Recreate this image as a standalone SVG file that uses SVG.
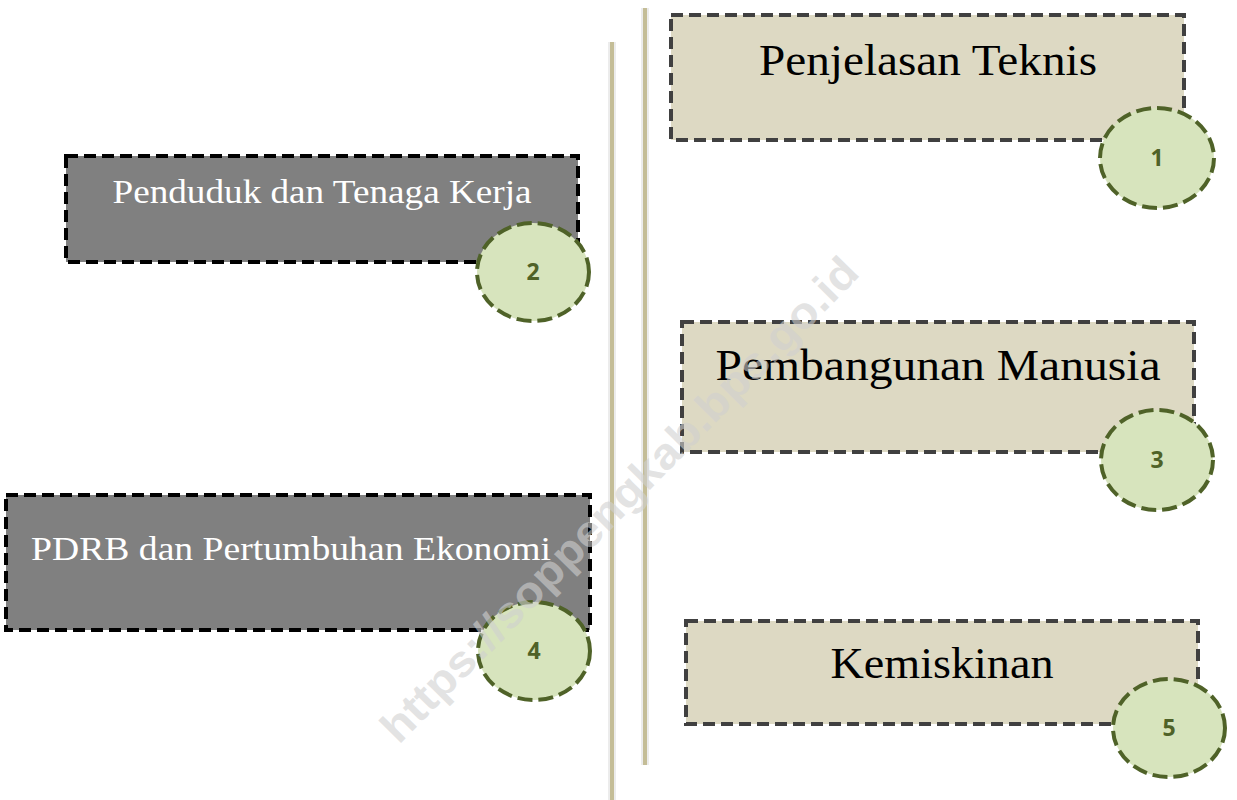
<svg xmlns="http://www.w3.org/2000/svg" width="1237" height="800" viewBox="0 0 1237 800">
<style>
.bg{fill:#ffffff}
.boxL{fill:#808080;stroke:#000000;stroke-width:4;stroke-dasharray:12 6}
.boxR{fill:#ddd9c3;stroke:#404040;stroke-width:4;stroke-dasharray:12 6}
.circ{fill:#d7e4bd;stroke:#4f6228;stroke-width:4;stroke-dasharray:15 6}
.tL{font-family:"Liberation Serif",serif;font-size:34px;fill:#ffffff;text-anchor:middle}
.tR{font-family:"Liberation Serif",serif;font-size:44px;fill:#000000;text-anchor:middle}
.num{font-family:"Open Sans","Liberation Sans",sans-serif;font-weight:bold;font-size:23px;fill:#4f6228;text-anchor:middle}
.vl{stroke:#c4bd97;stroke-width:4}
.vls{stroke:#ececec;stroke-width:8}
.wm{font-family:"Liberation Sans",sans-serif;font-weight:bold;font-size:44px;fill:#d0d0d0;fill-opacity:0.6;text-anchor:middle}
</style>
<rect class="bg" x="0" y="0" width="1237" height="800"/>
<g id="dividers">
<line class="vls" x1="612" y1="42" x2="612" y2="800"/>
<line class="vl" x1="612" y1="42" x2="612" y2="800"/>
<line class="vls" x1="645" y1="8" x2="645" y2="765"/>
<line class="vl" x1="645" y1="8" x2="645" y2="765"/>
</g>
<g id="node1">
<rect class="boxR" x="671" y="15" width="513" height="125"/>
<text class="tR" x="928" y="75" textLength="338" lengthAdjust="spacingAndGlyphs">Penjelasan Teknis</text>
<ellipse class="circ" cx="1157" cy="158" rx="57" ry="50"/>
<text class="num" x="1157" y="166">1</text>
</g>
<g id="node2">
<rect class="boxL" x="66" y="156" width="512" height="106"/>
<text class="tL" x="322" y="203" textLength="419" lengthAdjust="spacingAndGlyphs">Penduduk dan Tenaga Kerja</text>
<ellipse class="circ" cx="533" cy="272" rx="56" ry="49"/>
<text class="num" x="533" y="280">2</text>
</g>
<g id="node3">
<rect class="boxR" x="682" y="322" width="512" height="130"/>
<text class="tR" x="938" y="380" textLength="445" lengthAdjust="spacingAndGlyphs">Pembangunan Manusia</text>
<ellipse class="circ" cx="1157" cy="460" rx="56" ry="50"/>
<text class="num" x="1157" y="468">3</text>
</g>
<g id="node4">
<rect class="boxL" x="6" y="495" width="584" height="135"/>
<text class="tL" x="291" y="560" textLength="520" lengthAdjust="spacingAndGlyphs">PDRB dan Pertumbuhan Ekonomi</text>
<ellipse class="circ" cx="534" cy="651" rx="56" ry="49"/>
<text class="num" x="534" y="659">4</text>
</g>
<g id="node5">
<rect class="boxR" x="686" y="621" width="512" height="103"/>
<text class="tR" x="942" y="678" textLength="223" lengthAdjust="spacingAndGlyphs">Kemiskinan</text>
<ellipse class="circ" cx="1169" cy="728" rx="56" ry="49"/>
<text class="num" x="1169" y="736">5</text>
</g>
<g id="connectors"></g>
<text class="wm" transform="translate(630,510) rotate(-45.5)" textLength="660" lengthAdjust="spacingAndGlyphs">https://soppengkab.bps.go.id</text>
</svg>
